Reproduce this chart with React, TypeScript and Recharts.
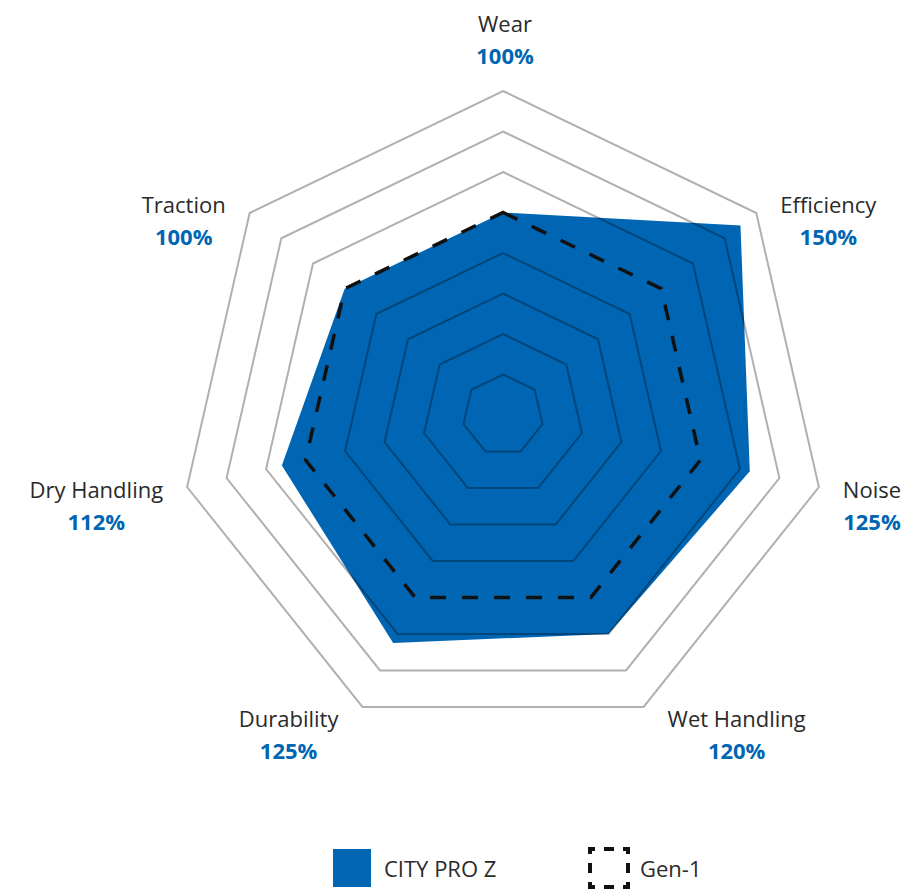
import { RadarChart, Radar, PolarGrid, PolarAngleAxis, PolarRadiusAxis, Legend } from "recharts";

const categories = ["Wear", "Efficiency", "Noise", "Wet Handling", "Durability", "Dry Handling", "Traction"];
const cityProZ = [100, 150, 125, 120, 125, 112, 100];
const gen1 = [100, 100, 100, 100, 100, 100, 100];
// grid rings every 20% (the 100% ring sits under the dashed Gen-1 outline, so it is left out)
const radiusTicks = [0, 20, 40, 60, 80, 120, 140, 160];

const data = categories.map((name, i) => ({ name, city: cityProZ[i], gen1: gen1[i] }));

const W = 905;
const H = 889;
const CX = 503;
const CY = 415;
const R = 324;
const BLUE = "#0066b3";
const TEXT = "#2a2a2a";
const FONT = "'Open Sans', sans-serif";

let ctx: CanvasRenderingContext2D | null = null;
function textWidth(s: string, font: string) {
  if (!ctx) ctx = document.createElement("canvas").getContext("2d");
  if (!ctx) return s.length * 11;
  ctx.font = font;
  return ctx.measureText(s).width;
}

function AngleTick(props: any) {
  const { x, y, payload } = props;
  const name: string = payload.value;
  const i = categories.indexOf(name);
  const pct = `${cityProZ[i]}%`;
  const dx = x - CX;
  const dy = y - CY;
  const len = Math.hypot(dx, dy) || 1;
  const ux = dx / len;
  const uy = dy / len;
  const vx = CX + ux * R;
  const vy = CY + uy * R;

  let tx: number;
  let ty: number;
  if (Math.abs(ux) < 0.05) {
    tx = vx + 2;
    ty = vy - 59;
  } else {
    const sign = ux > 0 ? 1 : -1;
    const w = textWidth(name, `22px ${FONT}`);
    tx = vx + sign * 24 + (sign * w) / 2;
    ty = vy + 8 + uy * 13;
  }
  return (
    <g>
      <text x={tx} y={ty} textAnchor="middle" fontSize={22} fontFamily={FONT} fill={TEXT}>
        {name}
      </text>
      <text x={tx} y={ty + 32} textAnchor="middle" fontSize={22} fontWeight={700} fontFamily={FONT} fill={BLUE}>
        {pct}
      </text>
    </g>
  );
}

function LegendContent(props: any) {
  const names: string[] = (props.payload || []).map((p: any) => p.value);
  return (
    <div style={{ display: "flex", alignItems: "center", height: 42, fontFamily: FONT, fontSize: 22, color: TEXT }}>
      <div style={{ marginLeft: 333, width: 38, height: 38, background: BLUE }} />
      <span style={{ marginLeft: 13, width: 204 }}>{names[0] ?? "CITY PRO Z"}</span>
      <svg width={42} height={42}>
        <rect x={2} y={2} width={38} height={38} fill="none" stroke="#111" strokeWidth={4} strokeDasharray="10 9" strokeDashoffset={5} />
      </svg>
      <span style={{ marginLeft: 10 }}>{names[1] ?? "Gen-1"}</span>
    </div>
  );
}

const layer: React.CSSProperties = { position: "absolute", left: 0, top: 0 };

export default function App() {
  return (
    <div style={{ position: "absolute", left: 0, top: 0, width: W, height: H, background: "#fff" }}>
      {/* bottom layer: filled series, labels, legend */}
      <div style={layer}>
        <RadarChart width={W} height={H} data={data} cx={CX} cy={CY} outerRadius={R} margin={{ top: 0, right: 0, bottom: 0, left: 0 }}>
          <PolarRadiusAxis domain={[0, 160]} ticks={radiusTicks as any} tick={false} axisLine={false} />
          <PolarAngleAxis dataKey="name" tick={AngleTick} tickLine={false} axisLine={false} />
          <Radar name="CITY PRO Z" dataKey="city" fill={BLUE} fillOpacity={1} stroke="none" isAnimationActive={false} />
          <Radar name="Gen-1" dataKey="gen1" fill="none" stroke="none" legendType="none" isAnimationActive={false} />
          <Legend content={LegendContent} wrapperStyle={{ position: "absolute", left: 0, top: 847, width: W }} />
        </RadarChart>
      </div>
      {/* top layer: translucent grid over the fill, dashed Gen-1 outline */}
      <div style={{ ...layer, pointerEvents: "none" }}>
        <RadarChart width={W} height={H} data={data} cx={CX} cy={CY} outerRadius={R} margin={{ top: 0, right: 0, bottom: 0, left: 0 }}>
          <PolarRadiusAxis domain={[0, 160]} ticks={radiusTicks as any} tick={false} axisLine={false} />
          <PolarAngleAxis dataKey="name" tick={false} tickLine={false} axisLine={false} />
          <PolarGrid gridType="polygon" radialLines={false} stroke="#000" strokeOpacity={0.31} strokeWidth={2} />
          <Radar name="Gen-1" dataKey="gen1" fill="none" stroke="#111" strokeWidth={3.5} strokeDasharray="16 16" dot={false} isAnimationActive={false} />
        </RadarChart>
      </div>
    </div>
  );
}
